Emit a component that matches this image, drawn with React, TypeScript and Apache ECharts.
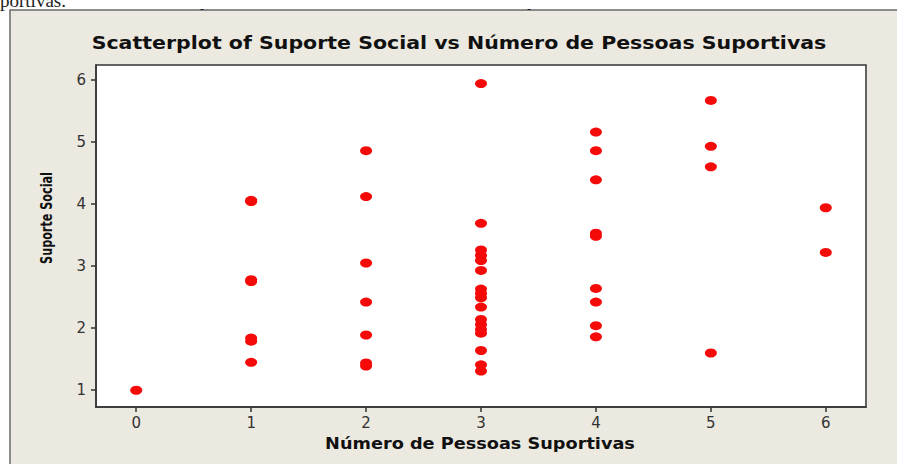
import React, { useEffect, useRef } from "react";
import * as echarts from "echarts";

const titleText = "Scatterplot of Suporte Social vs Número de Pessoas Suportivas";
const xAxisName = "Número de Pessoas Suportivas";
const yAxisName = "Suporte Social";

const xTicks = [0, 1, 2, 3, 4, 5, 6];
const yTicks = [1, 2, 3, 4, 5, 6];

// Número de Pessoas Suportivas (x) and Suporte Social (y) per group
const grp0 = [1.0];
const grp1 = [4.06, 4.04, 2.78, 2.75, 1.84, 1.79, 1.45];
const grp2 = [4.86, 4.12, 3.05, 2.42, 1.89, 1.44, 1.39];
const grp3 = [5.94, 3.69, 3.26, 3.17, 3.09, 2.93, 2.63, 2.56, 2.49, 2.34, 2.14, 2.06, 1.98, 1.92, 1.64, 1.41, 1.31];
const grp4 = [5.16, 4.86, 4.39, 3.53, 3.48, 2.64, 2.42, 2.04, 1.86];
const grp5 = [5.67, 4.93, 4.60, 1.60];
const grp6 = [3.94, 3.22];

const groups = [grp0, grp1, grp2, grp3, grp4, grp5, grp6];

export default function App() {
  const ref = useRef<HTMLDivElement>(null);
  useEffect(() => {
    if (!ref.current) return;
    const chart = echarts.init(ref.current, undefined, { renderer: "svg" });
    const data: number[][] = [];
    groups.forEach((g, xi) => g.forEach((v) => data.push([xTicks[xi], v])));
    chart.setOption({
      animation: false,
      backgroundColor: "#ffffff",
      graphic: [
        {
          type: "rect",
          z: -10,
          shape: { x: 10, y: 10, width: 900, height: 470 },
          style: { fill: "#ECE9E0", stroke: "#6a6a6a", lineWidth: 1.5 },
        },
        {
          type: "text",
          x: 0,
          y: -9,
          style: { text: "portivas.", font: "19px 'Liberation Serif', serif", fill: "#222" },
        },
        {
          type: "text",
          x: 200,
          y: 3,
          style: { text: "-", font: "12px 'Liberation Serif', serif", fill: "#222" },
        },
        {
          type: "text",
          x: 527,
          y: 3,
          style: { text: "-", font: "12px 'Liberation Serif', serif", fill: "#222" },
        },
        {
          type: "text",
          x: 459,
          y: 43,
          scaleX: 1.14,
          style: {
            text: titleText,
            font: "bold 18px 'DejaVu Sans'",
            fill: "#111",
            align: "center",
            verticalAlign: "middle",
          },
        },
        {
          type: "text",
          x: 480,
          y: 444,
          scaleX: 1.18,
          style: {
            text: xAxisName,
            font: "bold 15px 'DejaVu Sans'",
            fill: "#111",
            align: "center",
            verticalAlign: "middle",
          },
        },
        {
          type: "text",
          x: 46,
          y: 218,
          rotation: Math.PI / 2,
          scaleX: 0.78,
          style: {
            text: yAxisName,
            font: "bold 16px 'DejaVu Sans Condensed', 'DejaVu Sans'",
            fill: "#111",
            align: "center",
            verticalAlign: "middle",
          },
        },
      ],
      grid: {
        left: 96,
        top: 65,
        width: 770,
        height: 342,
        show: true,
        backgroundColor: "#ffffff",
        borderColor: "#333",
        borderWidth: 1.5,
      },
      xAxis: {
        type: "value",
        min: -0.35,
        max: 6.35,
        axisLine: { show: true, onZero: false, lineStyle: { color: "#333", width: 1.5 } },
        axisTick: { show: true, length: 5, lineStyle: { color: "#333", width: 1.5 }, customValues: xTicks },
        axisLabel: { fontFamily: "'DejaVu Sans'", fontSize: 15, color: "#333", margin: 8, customValues: xTicks },
        splitLine: { show: false },
      },
      yAxis: {
        type: "value",
        min: 0.73,
        max: 6.24,
        axisLine: { show: true, onZero: false, lineStyle: { color: "#333", width: 1.5 } },
        axisTick: { show: true, length: 5, lineStyle: { color: "#333", width: 1.5 }, customValues: yTicks },
        axisLabel: { fontFamily: "'DejaVu Sans'", fontSize: 15, color: "#333", margin: 10, customValues: yTicks },
        splitLine: { show: false },
      },
      series: [
        {
          type: "scatter",
          data,
          symbol: "circle",
          symbolSize: [12, 9],
          itemStyle: { color: "#f50a0a", opacity: 1 },
        },
      ],
    });
    return () => chart.dispose();
  }, []);
  return (
    <div
      ref={ref}
      style={{ position: "absolute", left: 0, top: 0, width: 897, height: 464 }}
    />
  );
}
